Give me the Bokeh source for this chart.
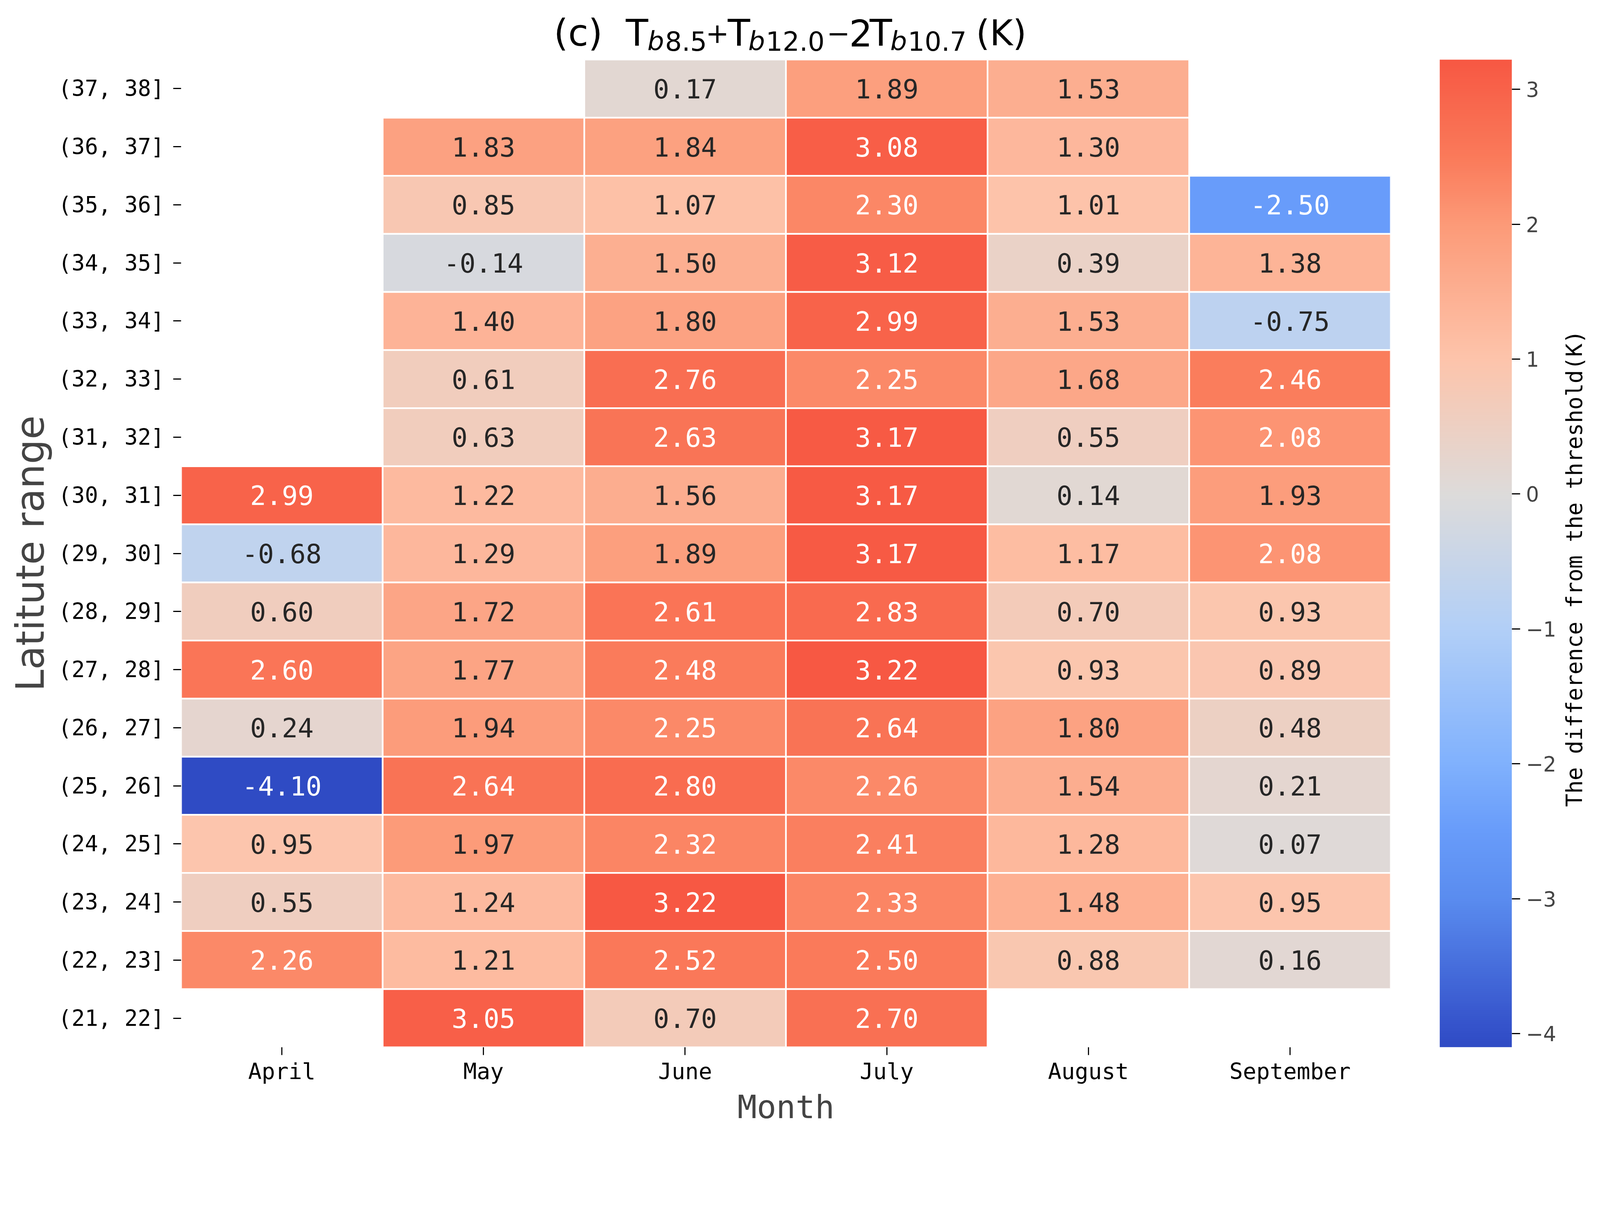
import numpy as np
from bokeh.plotting import figure
from bokeh.models import ColumnDataSource, LinearColorMapper, FixedTicker, Label, Range1d
from bokeh.layouts import row, column
from bokeh.embed import file_html
from bokeh.resources import INLINE
from bokeh.transform import transform
from bokeh.core.properties import value

# ---------------- data ----------------
months = ["April", "May", "June", "July", "August", "September"]
lat_bins = ["(37, 38]", "(36, 37]", "(35, 36]", "(34, 35]", "(33, 34]", "(32, 33]",
            "(31, 32]", "(30, 31]", "(29, 30]", "(28, 29]", "(27, 28]", "(26, 27]",
            "(25, 26]", "(24, 25]", "(23, 24]", "(22, 23]", "(21, 22]"]

april = [None, None, None, None, None, None, None, 2.99, -0.68, 0.60, 2.60, 0.24,
         -4.10, 0.95, 0.55, 2.26, None]
may = [None, 1.83, 0.85, -0.14, 1.40, 0.61, 0.63, 1.22, 1.29, 1.72, 1.77, 1.94,
       2.64, 1.97, 1.24, 1.21, 3.05]
june = [0.17, 1.84, 1.07, 1.50, 1.80, 2.76, 2.63, 1.56, 1.89, 2.61, 2.48, 2.25,
        2.80, 2.32, 3.22, 2.52, 0.70]
july = [1.89, 3.08, 2.30, 3.12, 2.99, 2.25, 3.17, 3.17, 3.17, 2.83, 3.22, 2.64,
        2.26, 2.41, 2.33, 2.50, 2.70]
august = [1.53, 1.30, 1.01, 0.39, 1.53, 1.68, 0.55, 0.14, 1.17, 0.70, 0.93, 1.80,
          1.54, 1.28, 1.48, 0.88, None]
september = [None, None, -2.50, 1.38, -0.75, 2.46, 2.08, 1.93, 2.08, 0.93, 0.89,
             0.48, 0.21, 0.07, 0.95, 0.16, None]

cbar_ticks = [-4, -3, -2, -1, 0, 1, 2, 3]
vmin, vmax = -4.10, 3.22

# colormap stops (value -> colour)
cmap_vals = [-4.10, -4.0, -3.0, -2.5, -2.0, -1.0, 0.0, 1.0, 2.0, 2.5, 3.22]
cmap_cols = ["#2f4bc4", "#3350c9", "#5a8cef", "#689cfa", "#80b1fd", "#b2cff7",
             "#dddbda", "#fdc4ab", "#fc9a78", "#fa7a5a", "#f75843"]

# ---------------- scale helpers (reference px -> css px) ----------------
S = 1.0 / 1.065
def px(d):
    return int(round(d * S))
def fs(d):
    return "%.1fpx" % (d * S)

# ---------------- palette ----------------
def hex2rgb(h):
    h = h.lstrip("#")
    return [int(h[i:i + 2], 16) for i in (0, 2, 4)]

rgb = np.array([hex2rgb(c) for c in cmap_cols], dtype=float)
grid = np.linspace(vmin, vmax, 512)
chan = [np.interp(grid, cmap_vals, rgb[:, k]) for k in range(3)]
palette = ["#%02x%02x%02x" % (int(round(r)), int(round(g)), int(round(b)))
           for r, g, b in zip(*chan)]
mapper = LinearColorMapper(palette=palette, low=vmin, high=vmax)

# ---------------- long-form table ----------------
series = [april, may, june, july, august, september]
xs, ys, vals, labels, tcols = [], [], [], [], []
for m, col in zip(months, series):
    for lat, v in zip(lat_bins, col):
        if v is None:
            continue
        xs.append(m)
        ys.append(lat)
        vals.append(v)
        labels.append("%.2f" % v)
        tcols.append("white" if (v > 2.0 or v < -2.0) else "#262626")
src = ColumnDataSource(dict(month=xs, lat=ys, val=vals, label=labels, tcolor=tcols))

MONO = "DejaVu Sans Mono"
SANS = "DejaVu Sans"

# layout in reference pixels
X0, X_SPLIT1, X_SPLIT2, X_END = 8.5, 3868.0, 4255.0, 4350.5
Y0, Y_SPLIT, Y_END = 8.5, 168.0, 3079.5
FR_L, FR_R, FR_T, FR_B = 502.0, 3800.0, 170.0, 2867.0
CB_L, CB_R = 3933.0, 4139.0

W1 = px(X_SPLIT1 - X0)
W2 = px(X_SPLIT2 - X_SPLIT1)
W3 = px(X_END - X_SPLIT2)
WT = W1 + W2 + W3
HT = px(Y_SPLIT - Y0)
HB = px(Y_END - Y_SPLIT)
BT = px(FR_T - Y_SPLIT)
BB = px(Y_END - FR_B)

# ---------------- title strip ----------------
t = figure(width=WT, height=HT, title=None,
           x_range=Range1d(X0, X0 + WT / S), y_range=Range1d(-(Y0 + HT / S), -Y0),
           x_axis_type=None, y_axis_type=None,
           output_backend="svg", toolbar_location=None,
           min_border=0, min_border_left=0, min_border_right=0,
           min_border_top=0, min_border_bottom=0)
t.outline_line_color = None
t.grid.visible = False

title_parts = [
    (1518, 98, "(c)", 100, "normal"),
    (1714, 98, "T", 100, "normal"),
    (1773, 120, "b", 72, "italic"),
    (1821, 120, "8.5", 72, "normal"),
    (1932, 97, "+", 76, "normal"),
    (1992, 98, "T", 100, "normal"),
    (2048, 120, "b", 72, "italic"),
    (2096, 120, "12.0", 72, "normal"),
    (2262, 97, "\u2212", 76, "normal"),
    (2323, 98, "2", 100, "normal"),
    (2379, 98, "T", 100, "normal"),
    (2435, 120, "b", 72, "italic"),
    (2483, 120, "10.7", 72, "normal"),
    (2669, 98, "(K)", 96, "normal"),
]
for tx, ty, tt, tsz, st in title_parts:
    t.add_layout(Label(x=tx, y=-ty, text=tt, text_font=SANS, text_font_size=fs(tsz),
                       text_font_style=st, text_align="left",
                       text_baseline="alphabetic", text_color="black"))

# ---------------- heatmap ----------------
p = figure(width=W1, height=HB, title=None, x_range=months, y_range=lat_bins[::-1],
           output_backend="svg", toolbar_location=None,
           min_border_left=px(FR_L - X0), min_border_right=px(X_SPLIT1 - FR_R),
           min_border_top=BT, min_border_bottom=BB)
p.outline_line_color = None
p.grid.visible = False

p.rect(x="month", y="lat", width=1, height=1, source=src,
       fill_color=transform("val", mapper), line_color="white", line_width=4.5 * S)
p.text(x="month", y="lat", text="label", source=src, text_color="tcolor",
       text_align="center", text_baseline="middle",
       text_font=value(MONO), text_font_size=fs(72))

for ax in (p.xaxis[0], p.yaxis[0]):
    ax.axis_line_color = None
    ax.major_tick_out = px(21)
    ax.major_tick_in = 0
    ax.major_tick_line_width = 3 * S
    ax.major_tick_line_color = "black"
    ax.major_label_text_color = "black"
    ax.major_label_text_font = MONO

p.xaxis.major_label_text_font_size = fs(61)
p.xaxis.major_label_standoff = px(9)
p.xaxis.axis_label = "Month"
p.xaxis.axis_label_text_font = MONO
p.xaxis.axis_label_text_font_size = fs(88)
p.xaxis.axis_label_text_font_style = "normal"
p.xaxis.axis_label_standoff = px(6)

p.yaxis.major_label_text_font_size = fs(60)
p.yaxis.major_label_standoff = px(24)
p.yaxis.axis_label = "Latitute range"
p.yaxis.axis_label_text_font = SANS
p.yaxis.axis_label_text_font_size = fs(106)
p.yaxis.axis_label_text_font_style = "normal"
p.yaxis.axis_label_standoff = px(12)

# ---------------- colour bar ----------------
c = figure(width=W2, height=HB, title=None, x_range=Range1d(0, 1), y_range=Range1d(vmin, vmax),
           y_axis_location="right", output_backend="svg", toolbar_location=None,
           min_border_left=px(CB_L - X_SPLIT1), min_border_right=px(X_SPLIT2 - CB_R),
           min_border_top=BT, min_border_bottom=BB)
c.outline_line_color = None
c.grid.visible = False
c.xaxis.visible = False
grad = np.linspace(vmin, vmax, 512).reshape(-1, 1)
c.image(image=[grad], x=0, y=vmin, dw=1, dh=vmax - vmin, color_mapper=mapper)
cy = c.yaxis[0]
cy.ticker = FixedTicker(ticks=cbar_ticks)
cy.major_label_overrides = {tk: (("\u2212%d" % -tk) if tk < 0 else "%d" % tk) for tk in cbar_ticks}
cy.axis_line_color = None
cy.major_tick_out = px(22)
cy.major_tick_in = 0
cy.major_tick_line_width = 3 * S
cy.minor_tick_line_color = None
cy.major_label_text_font = SANS
cy.major_label_text_font_size = fs(56)
cy.major_label_standoff = px(16)

# ---------------- colour bar label strip (frame aligned with heatmap frame) ----------------
lb = figure(width=W3, height=HB, title=None,
            x_range=Range1d(X_SPLIT2, X_SPLIT2 + W3 / S), y_range=Range1d(-FR_B, -FR_T),
            x_axis_type=None, y_axis_type=None,
            output_backend="svg", toolbar_location=None,
            min_border=0, min_border_left=0, min_border_right=0,
            min_border_top=BT, min_border_bottom=BB)
lb.outline_line_color = None
lb.grid.visible = False
lb.add_layout(Label(x=4301, y=-1560, text="The difference from the threshold(K)",
                    angle=np.pi / 2, text_font=MONO, text_font_size=fs(60),
                    text_align="center", text_baseline="middle", text_color="black"))

layout = column(t, row(p, c, lb))
open("out.html", "w").write(file_html(layout, INLINE))
